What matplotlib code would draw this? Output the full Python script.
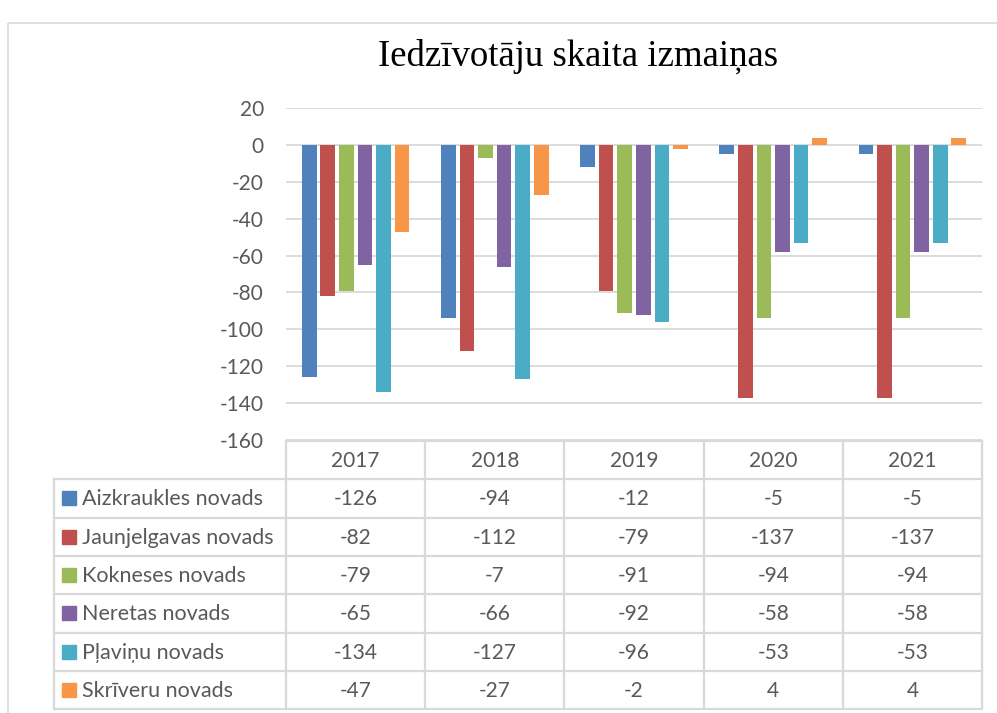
import matplotlib
matplotlib.use('Agg')
import matplotlib.pyplot as plt
import numpy as np
from matplotlib.patches import Rectangle

# ---- data ----
years = ['2017', '2018', '2019', '2020', '2021']
series_names = ['Aizkraukles novads', 'Jaunjelgavas novads', 'Kokneses novads',
                'Neretas novads', 'Pļaviņu novads', 'Skrīveru novads']
aizkraukles = [-126, -94, -12, -5, -5]
jaunjelgavas = [-82, -112, -79, -137, -137]
kokneses = [-79, -7, -91, -94, -94]
neretas = [-65, -66, -92, -58, -58]
plavinu = [-134, -127, -96, -53, -53]
skriveru = [-47, -27, -2, 4, 4]
yticks = [20, 0, -20, -40, -60, -80, -100, -120, -140, -160]
title = 'Iedzīvotāju skaita izmaiņas'

series = [aizkraukles, jaunjelgavas, kokneses, neretas, plavinu, skriveru]
colors = ['#4F81BD', '#C0504D', '#9BBB59', '#8064A2', '#4BACC6', '#F79646']

W, H = 997, 713
fig = plt.figure(figsize=(W / 100, H / 100), dpi=100)
fig.patch.set_facecolor('white')

FONT = 'Lato'
TXT = '#595959'
GRID = '#D9D9D9'
FS = 15

# background axes in pixel coords
bg = fig.add_axes([0, 0, 1, 1], zorder=0)
bg.set_xlim(0, W)
bg.set_ylim(H, 0)
bg.axis('off')

# chart border
bg.add_patch(Rectangle((8, 23), W + 20, H + 20, fill=False, edgecolor=GRID, lw=1.2))

# plot area
L, R = 286, 982
T, B = 108, 440
ax = fig.add_axes([L / W, (H - B) / H, (R - L) / W, (B - T) / H], zorder=1)
ax.patch.set_alpha(0)

n = len(series)
slot = 0.8 / n
bw = 0.105
x = np.arange(len(years))
for i, (vals, c) in enumerate(zip(series, colors)):
    ax.bar(x + (i - (n - 1) / 2) * slot, vals, width=bw, color=c, zorder=3)

ax.set_xlim(-0.5, len(years) - 0.5)
ax.set_ylim(min(yticks), max(yticks))
ax.set_yticks(yticks)
ax.set_yticklabels([str(v) for v in yticks], fontfamily=FONT, fontsize=FS, color=TXT)
ax.tick_params(axis='y', length=0, pad=16)
ax.set_xticks([])
for s in ax.spines.values():
    s.set_visible(False)
ax.grid(axis='y', color=GRID, lw=1.3, zorder=0)
ax.set_axisbelow(True)

# title
bg.text(578, 56, title, fontfamily='Liberation Serif', fontsize=26.5,
        ha='center', va='center', color='black')

# data table
col_w = (R - L) / len(years)
col_edges = [L + k * col_w for k in range(len(years) + 1)]
row_top = 441
row_h = 38.3
row_lines = [row_top + k * row_h for k in range(len(series) + 2)]
tab_left = 54
lw = 1.6
# horizontal lines
bg.plot([L, col_edges[-1]], [row_lines[0]] * 2, color=GRID, lw=lw)
for yv in row_lines[1:]:
    bg.plot([tab_left, col_edges[-1]], [yv] * 2, color=GRID, lw=lw)
# vertical lines
bg.plot([tab_left, tab_left], [row_lines[1], row_lines[-1]], color=GRID, lw=lw)
for xe in col_edges:
    bg.plot([xe, xe], [row_lines[0], row_lines[-1]], color=GRID, lw=lw)

# header
for k, yr in enumerate(years):
    bg.text((col_edges[k] + col_edges[k + 1]) / 2, (row_lines[0] + row_lines[1]) / 2 + 1, yr,
            ha='center', va='center', fontfamily=FONT, fontsize=FS, color=TXT)
# rows
for r, (name, vals, c) in enumerate(zip(series_names, series, colors)):
    yc = (row_lines[r + 1] + row_lines[r + 2]) / 2
    bg.add_patch(Rectangle((62, yc - 7), 14, 14, color=c))
    bg.text(82, yc + 1, name, ha='left', va='center', fontfamily=FONT, fontsize=15.5, color=TXT)
    for k, v in enumerate(vals):
        bg.text((col_edges[k] + col_edges[k + 1]) / 2, yc + 1, str(v),
                ha='center', va='center', fontfamily=FONT, fontsize=FS, color=TXT)

fig.savefig('out.png', dpi=100, facecolor='white')
